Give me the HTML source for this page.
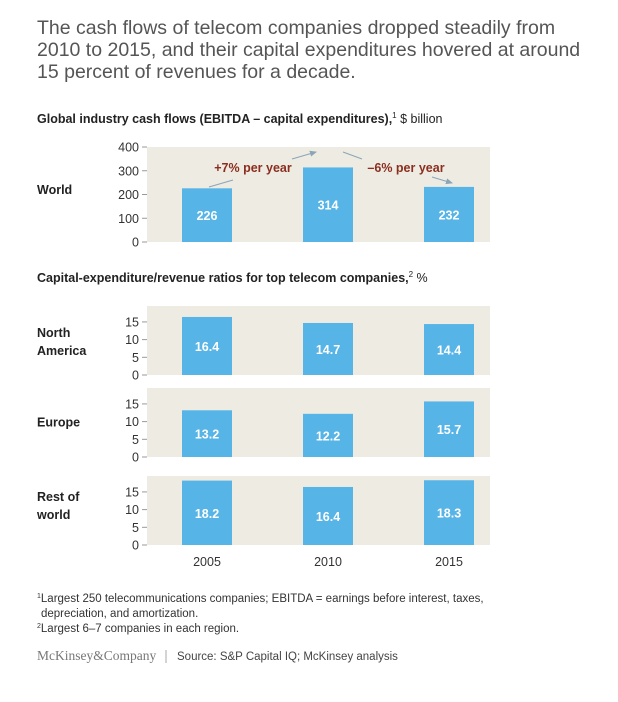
<!DOCTYPE html>
<html><head><meta charset="utf-8"><style>
body{margin:0;background:#fff;width:618px;height:697px;overflow:hidden;font-family:"Liberation Sans",Arial,sans-serif;}
svg text{font-family:"Liberation Sans",Arial,sans-serif;}
</style></head><body>
<svg width="618" height="697">
<g fill="#555" font-size="19.5">
<text x="37" y="34">The cash flows of telecom companies dropped steadily from</text>
<text x="37" y="56">2010 to 2015, and their capital expenditures hovered at around</text>
<text x="37" y="78">15 percent of revenues for a decade.</text>
</g>
<text x="37" y="123" font-size="12.5" font-weight="bold" fill="#222">Global industry cash flows (EBITDA – capital expenditures),<tspan font-size="8" dy="-5" font-weight="normal">1</tspan><tspan dy="5" font-weight="normal"> $ billion</tspan></text>
<text x="37" y="282" font-size="12.5" font-weight="bold" fill="#222">Capital-expenditure/revenue ratios for top telecom companies,<tspan font-size="8" dy="-5" font-weight="normal">2</tspan><tspan dy="5" font-weight="normal"> %</tspan></text>
<g id="charts"></g>
<g font-size="11.5" fill="#333">
<text x="37" y="602"><tspan font-size="7" dy="-4">1</tspan><tspan dy="4">Largest 250 telecommunications companies; EBITDA = earnings before interest, taxes,</tspan></text>
<text x="41" y="617">depreciation, and amortization.</text>
<text x="37" y="632"><tspan font-size="7" dy="-4">2</tspan><tspan dy="4">Largest 6–7 companies in each region.</tspan></text>
</g>
<text x="37" y="660" font-size="13.5" fill="#777" style="font-family:'Liberation Serif',serif">McKinsey&amp;Company</text>
<line x1="166" y1="650" x2="166" y2="663" stroke="#aaa"/>
<text x="177" y="660" font-size="11.5" fill="#444">Source: S&amp;P Capital IQ; McKinsey analysis</text>
</svg>
<script>
const years=["2005","2010","2015"];
const worldValues=[226,314,232];
const worldTicks=[0,100,200,300,400];
const regions=["North America","Europe","Rest of world"];
const naValues=[16.4,14.7,14.4];
const euValues=[13.2,12.2,15.7];
const rowValues=[18.2,16.4,18.3];
const smallTicks=[0,5,10,15];

const NS="http://www.w3.org/2000/svg";
const root=document.getElementById('charts');
function mk(t,a,p){const e=document.createElementNS(NS,t);for(const k in a)e.setAttribute(k,a[k]);(p||root).appendChild(e);return e;}
const barX=[182,303,424], barW=50, px0=147, px1=490;

function panel(name,labelLines,values,ticks,top,zero,maxV,labelY){
  const g=mk('g',{});
  
  
  const y=v=>zero-(v/maxV)*(zero-top);
  const bg=mk('rect',{x:px0,y:top,width:px1-px0,height:zero-top,fill:'#edebe2'},g);
  
  
  ticks.forEach(t=>{
    const ty=y(t);
    mk('line',{x1:px0-5,x2:px0,y1:ty,y2:ty,stroke:'#999'},g);
    const tx=mk('text',{x:px0-8,y:ty+4.5,'text-anchor':'end','font-size':'12.5',fill:'#333'},g);
    tx.textContent=t;
    
    
  });
  const my=labelY!==undefined?labelY:(top+zero)/2-(labelLines.length-1)*9+4;
  labelLines.forEach((l,i)=>{
    const t=mk('text',{x:37,y:my+i*18,'font-size':'12.5','font-weight':'bold',fill:'#222'},g);
    t.textContent=l;
    
    
  });
  values.forEach((v,i)=>{
    const by=Math.max(y(v),top);
    const r=mk('rect',{x:barX[i],y:by,width:barW,height:zero-by,fill:'#56b4e6'},g);
    
    
    const t=mk('text',{x:barX[i]+barW/2,y:(by+zero)/2+5,'text-anchor':'middle','font-size':'12.5','font-weight':'bold',fill:'#fff'},g);
    t.textContent=v.toFixed(maxV>100?0:1);
    
    
  });
  return y;
}
panel('world',['World'],worldValues,worldTicks,147,242,400,194);
panel('north-america',['North','America'],naValues,smallTicks,306,375,19.5,337);
panel('europe',['Europe'],euValues,smallTicks,388,457,19.5);
panel('rest-of-world',['Rest of','world'],rowValues,smallTicks,476,545,19.5,501);

const defs=mk('defs',{});
const m=mk('marker',{id:'ah',markerWidth:8,markerHeight:8,refX:6,refY:3,orient:'auto'},defs);
mk('path',{d:'M0,0 L7,3 L0,6 z',fill:'#8aa5b8'},m);
const a1=mk('line',{x1:209,y1:187,x2:233,y2:180,stroke:'#8aa5b8','stroke-width':1},root);

const a2=mk('line',{x1:292,y1:159,x2:316,y2:152,stroke:'#8aa5b8','stroke-width':1,'marker-end':'url(#ah)'},root);

const a3=mk('line',{x1:343,y1:152,x2:362,y2:159,stroke:'#8aa5b8','stroke-width':1},root);

const a4=mk('line',{x1:432,y1:177,x2:452,y2:183,stroke:'#8aa5b8','stroke-width':1,'marker-end':'url(#ah)'},root);

const l1=mk('text',{x:253,y:172,'text-anchor':'middle','font-size':'12.5','font-weight':'bold',fill:'#8b2e1f'});
l1.textContent='+7% per year';

const l2=mk('text',{x:406,y:172,'text-anchor':'middle','font-size':'12.5','font-weight':'bold',fill:'#8b2e1f'});
l2.textContent='–6% per year';


years.forEach((yr,i)=>{
  const t=mk('text',{x:barX[i]+barW/2,y:566,'text-anchor':'middle','font-size':'12.5',fill:'#333'});
  t.textContent=yr;
  
  
});
</script>
</body></html>
